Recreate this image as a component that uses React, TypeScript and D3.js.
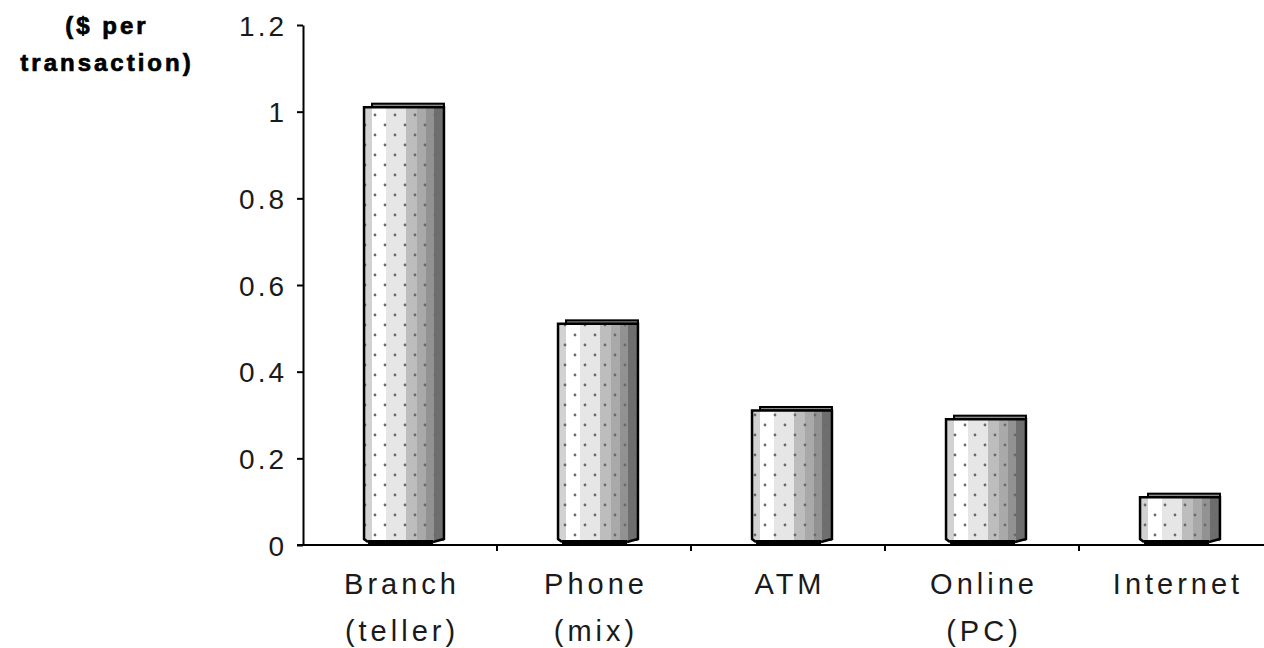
import React, { useEffect, useRef } from 'react';
import * as d3 from 'd3';

const categories = ['Branch|(teller)', 'Phone|(mix)', 'ATM', 'Online|(PC)', 'Internet'];
const costs = [1.0, 0.5, 0.3, 0.28, 0.1];
const yTicks = [0, 0.2, 0.4, 0.6, 0.8, 1, 1.2];
const titleLines = ['($ per', 'transaction)'];

export default function App() {
  const svgRef = useRef<SVGSVGElement>(null);

  useEffect(() => {
    if (!svgRef.current) return;
    const svg = d3.select(svgRef.current);
    svg.selectAll('*').remove();

    const width = 1264;
    const height = 648;
    svg.attr('viewBox', `0 0 ${width} ${height}`);

    const x = d3.scaleBand<string>()
      .domain(categories)
      .range([303, 303 + 194 * 5])
      .paddingInner(0.588)
      .paddingOuter(0.294);
    const y = d3.scaleLinear().domain([0, 1.2]).range([545, 25]);

    const defs = svg.append('defs');
    // stepped shading across the cylinder face
    const grad = defs.append('linearGradient').attr('id', 'cyl').attr('x1', 0).attr('x2', 1).attr('y1', 0).attr('y2', 0);
    const bands: [number, number, string][] = [
      [0, 0.1, '#d2d2d2'],
      [0.1, 0.27, '#ffffff'],
      [0.27, 0.53, '#e6e6e6'],
      [0.53, 0.66, '#bdbdbd'],
      [0.66, 0.77, '#a9a9a9'],
      [0.77, 0.88, '#929292'],
      [0.88, 1, '#6e6e6e'],
    ];
    bands.forEach(([a, b, c]) => {
      grad.append('stop').attr('offset', a).attr('stop-color', c);
      grad.append('stop').attr('offset', b).attr('stop-color', c);
    });
    const pat = defs.append('pattern').attr('id', 'dots')
      .attr('width', 20).attr('height', 20).attr('patternUnits', 'userSpaceOnUse');
    pat.append('circle').attr('cx', 5).attr('cy', 5).attr('r', 1.4).attr('fill', '#6a6a6a');
    pat.append('circle').attr('cx', 15).attr('cy', 15).attr('r', 1.4).attr('fill', '#6a6a6a');

    // y axis title
    const title = svg.append('text')
      .attr('x', 107).attr('text-anchor', 'middle')
      .style('font-family', '"Liberation Sans", Arial, sans-serif')
      .style('font-weight', 'bold').style('font-size', '24px').style('letter-spacing', '3px')
      .attr('fill', '#000').attr('stroke', '#000').attr('stroke-width', 0.7);
    titleLines.forEach((t, i) => {
      title.append('tspan').attr('x', 107).attr('y', 34 + i * 37).text(t);
    });

    const base = y(0);
    const w = x.bandwidth();

    // bars
    categories.forEach((c, i) => {
      const bx = (x(c) as number) + 4;
      const ty = y(costs[i]) - 4.5;
      const g = svg.append('g');
      g.append('rect').attr('x', bx + 8).attr('y', ty - 3.5).attr('width', w - 8).attr('height', 3.5)
        .attr('fill', '#8a8a8a').attr('stroke', '#000').attr('stroke-width', 2);
      g.append('rect').attr('x', bx).attr('y', ty).attr('width', w).attr('height', base - 4 - ty)
        .attr('fill', 'url(#cyl)');
      g.append('rect').attr('x', bx).attr('y', ty).attr('width', w).attr('height', base - 4 - ty)
        .attr('fill', 'url(#dots)');
      g.append('rect').attr('x', bx + 4).attr('y', base - 5).attr('width', w - 15).attr('height', 5)
        .attr('fill', '#000');
      g.append('path')
        .attr('d', `M${bx + 4},${base - 3} L${bx},${base - 6} L${bx},${ty} L${bx + w},${ty} L${bx + w},${base - 6} L${bx + w - 11},${base - 3}`)
        .attr('fill', 'none').attr('stroke', '#000').attr('stroke-width', 2.5);
    });

    // y axis
    const yAxis = svg.append('g').attr('transform', 'translate(303,0)')
      .call(d3.axisLeft(y).tickValues(yTicks).tickSize(6).tickSizeOuter(0).tickPadding(10)
        .tickFormat(d => String(+(+d).toFixed(1))));
    yAxis.select('.domain').attr('stroke', '#000').attr('stroke-width', 2);
    yAxis.selectAll('line').attr('stroke', '#000').attr('stroke-width', 2);
    yAxis.selectAll('text')
      .style('font-family', '"Liberation Sans", Arial, sans-serif')
      .style('font-size', '28px').style('letter-spacing', '3px')
      .attr('fill', '#1a1a1a').attr('dy', '0.36em');

    // x axis
    svg.append('line').attr('x1', 297).attr('x2', width).attr('y1', base).attr('y2', base)
      .attr('stroke', '#000').attr('stroke-width', 2);
    const step = x.step();
    d3.range(1, 5).forEach(k => {
      const tx = 303 + step * k;
      svg.append('line').attr('x1', tx).attr('x2', tx).attr('y1', base).attr('y2', base + 6)
        .attr('stroke', '#000').attr('stroke-width', 2);
    });
    categories.forEach(c => {
      const cx = (x(c) as number) + w / 2 + 2;
      const t = svg.append('text').attr('text-anchor', 'middle')
        .style('font-family', '"Liberation Sans", Arial, sans-serif')
        .style('font-size', '29px').style('letter-spacing', '4px')
        .attr('fill', '#1a1a1a');
      c.split('|').forEach((line, j) => {
        t.append('tspan').attr('x', cx).attr('y', 594 + j * 47).text(line);
      });
    });
  }, []);

  return (
    <svg ref={svgRef} width={1264} height={648}
      style={{ position: 'absolute', left: 0, top: 0, display: 'block', background: '#fff' }} />
  );
}
